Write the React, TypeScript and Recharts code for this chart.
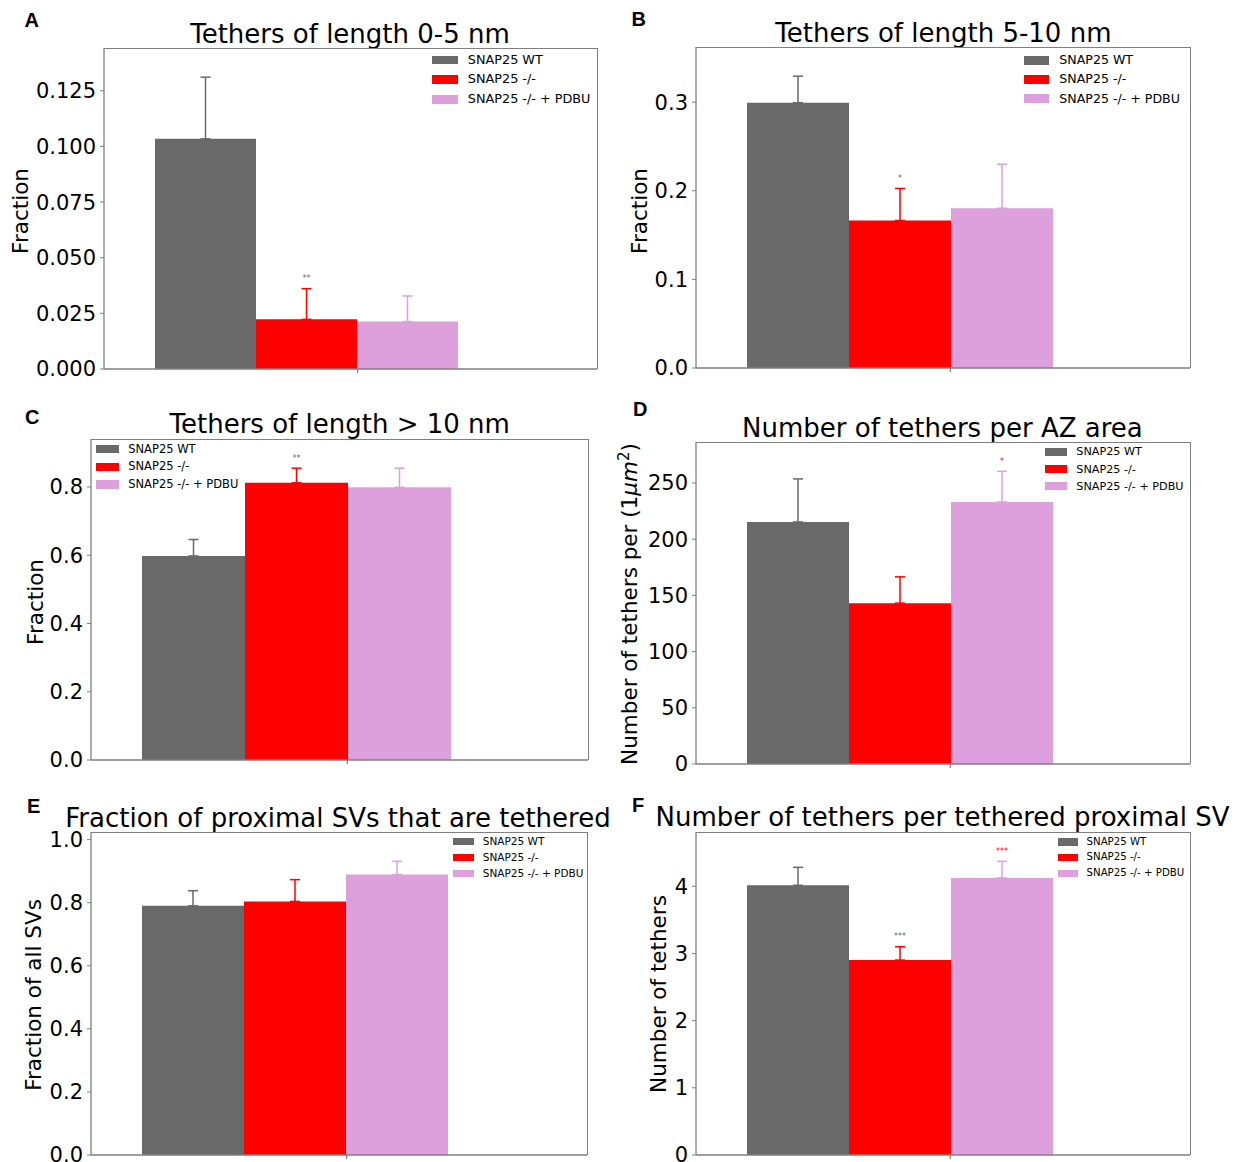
import React from 'react';
import { BarChart, Bar, XAxis, YAxis, ErrorBar } from 'recharts';

// groups, shared by every panel
const groups = ['SNAP25 WT', 'SNAP25 -/-', 'SNAP25 -/- + PDBU'];
const keys = ['wt', 'ko', 'pdbu'];
const fills = ['#696969', '#ff0000', '#dda0dd'];

// A: tethers of length 0-5 nm
const shortMean = [0.1034, 0.0223, 0.0213];
const shortErr = [0.0277, 0.0138, 0.0115];
const shortSig = [null, { stars: '**', vs: 0 }, null];
const shortTicks = [0, 0.025, 0.05, 0.075, 0.1, 0.125];

// B: tethers of length 5-10 nm
const midMean = [0.2994, 0.1664, 0.1803];
const midErr = [0.0299, 0.0362, 0.0496];
const midSig = [null, { stars: '*', vs: 0 }, null];
const midTicks = [0, 0.1, 0.2, 0.3];

// C: tethers of length > 10 nm
const longMean = [0.598, 0.812, 0.799];
const longErr = [0.048, 0.043, 0.056];
const longSig = [null, { stars: '**', vs: 0 }, null];
const longTicks = [0, 0.2, 0.4, 0.6, 0.8];

// D: number of tethers per AZ area
const densMean = [215.3, 143.1, 233.1];
const densErr = [38.3, 23.4, 27.3];
const densSig = [null, null, { stars: '*', vs: 1 }];
const densTicks = [0, 50, 100, 150, 200, 250];

// E: fraction of proximal SVs that are tethered
const fracMean = [0.79, 0.804, 0.889];
const fracErr = [0.048, 0.069, 0.042];
const fracSig = [null, null, null];
const fracTicks = [0, 0.2, 0.4, 0.6, 0.8, 1.0];

// F: number of tethers per tethered proximal SV
const perSvMean = [4.015, 2.902, 4.124];
const perSvErr = [0.267, 0.198, 0.247];
const perSvSig = [null, { stars: '***', vs: 0 }, { stars: '***', vs: 1 }];
const perSvTicks = [0, 1, 2, 3, 4];

const FONT = '"DejaVu Sans", sans-serif';
const FRAME = '#7f7f7f';
const PAD_L = 51;
const PAD_R = 138;
const ML = 90;
const MT = 10;
const MR = 10;
const XH = 24;

function makeRows(mean: number[], err: number[]) {
  const row: any = { name: '' };
  keys.forEach((k, i) => {
    row[k] = mean[i];
    row[k + 'Err'] = [0, err[i]];
  });
  return [row];
}

function BoundaryTick(props: any) {
  const { x, y, width, payload } = props;
  const band = typeof width === 'number' ? width - PAD_L - PAD_R : (payload?.offset ?? 0) * 2;
  const tx = x + band / 6;
  return <line x1={tx} x2={tx} y1={y} y2={y + 4} stroke={FRAME} strokeWidth={1.2} />;
}

function Legend({ x, y, f }: { x: number; y: number; f: number }) {
  const rowH = f * 1.53;
  return (
    <div style={{ position: 'absolute', left: x, top: y - rowH / 2, fontFamily: FONT, fontSize: f, lineHeight: 1, whiteSpace: 'nowrap' }}>
      {groups.map((g, i) => (
        <div key={g} style={{ display: 'flex', alignItems: 'center', height: rowH }}>
          <span style={{ display: 'inline-block', width: 2 * f, height: 0.7 * f, background: fills[i], marginRight: 0.8 * f }} />
          <span>{g}</span>
        </div>
      ))}
    </div>
  );
}

function Panel(p: any) {
  const { box, mean, err, sig, ticks, decimals } = p;
  const rows = makeRows(mean, err);
  const yMax = Math.max(...mean.map((m: number, i: number) => m + err[i])) * 1.1;

  const starLabel = (i: number) => (lp: any) => {
    const s = sig[i];
    if (!s) return null;
    const top = lp.y - (err[i] * lp.height) / mean[i];
    return (
      <text x={lp.x + lp.width / 2} y={top - 7.5} textAnchor="middle" fontSize={8} fill={fills[s.vs]} fontFamily={FONT}>
        {s.stars}
      </text>
    );
  };

  return (
    <>
      <div style={{ position: 'absolute', left: p.letter[0], top: p.letter[1], transform: 'translate(-50%,-50%)', fontFamily: '"Liberation Sans", Arial, sans-serif', fontWeight: 'bold', fontSize: 20, lineHeight: 1 }}>
        {p.letterText}
      </div>
      <div style={{ position: 'absolute', left: p.title[0], top: p.title[1], transform: 'translate(-50%,-50%)', fontFamily: FONT, fontSize: 26, lineHeight: 1, whiteSpace: 'nowrap' }}>
        {p.titleText}
      </div>
      <div style={{ position: 'absolute', left: p.ylab[0], top: p.ylab[1], transform: 'translate(-50%,-50%) rotate(-90deg)', fontFamily: FONT, fontSize: 21.5, lineHeight: 1, whiteSpace: 'nowrap' }}>
        {p.ylabText}
      </div>
      <div style={{ position: 'absolute', left: box.x - ML, top: box.y - MT }}>
        <BarChart
          width={box.w + ML + MR}
          height={box.h + MT + XH}
          data={rows}
          margin={{ top: MT, right: MR, left: 0, bottom: 0 }}
          barGap={0}
          barCategoryGap={0}
        >
          <XAxis
            dataKey="name"
            padding={{ left: PAD_L, right: PAD_R }}
            height={XH}
            interval={0}
            tickLine={false}
            tickSize={0}
            tickMargin={0}
            axisLine={{ stroke: FRAME, strokeWidth: 1.3 }}
            tick={(tp: any) => <BoundaryTick {...tp} />}
          />
          <YAxis
            type="number"
            domain={[0, yMax]}
            ticks={ticks}
            interval={0}
            allowDataOverflow
            width={ML}
            tickSize={4}
            tickMargin={4}
            tickLine={{ stroke: FRAME }}
            axisLine={{ stroke: FRAME, strokeWidth: 1.3 }}
            tick={{ fontSize: 21, fill: '#000', fontFamily: FONT }}
            tickFormatter={(v: number) => v.toFixed(decimals)}
          />
          {keys.map((k, i) => (
            <Bar key={k} dataKey={k} name={groups[i]} fill={fills[i]} isAnimationActive={false} label={starLabel(i)}>
              <ErrorBar dataKey={k + 'Err'} direction="y" width={5} strokeWidth={1.5} stroke={fills[i]} isAnimationActive={false} />
            </Bar>
          ))}
        </BarChart>
      </div>
      {/* top and right spines of the axes box */}
      <div
        style={{
          position: 'absolute',
          left: box.x,
          top: box.y - 0.5,
          width: box.w + 0.5,
          height: box.h,
          boxSizing: 'border-box',
          borderTop: `1.3px solid ${FRAME}`,
          borderRight: `1.3px solid ${FRAME}`,
          pointerEvents: 'none',
        }}
      />
      <Legend x={p.legend[0]} y={p.legend[1]} f={p.legend[2]} />
    </>
  );
}

export default function App() {
  return (
    <div style={{ position: 'absolute', left: 0, top: 0, width: 1238, height: 1162, overflow: 'hidden', background: '#fff' }}>
      <Panel
        letterText="A" letter={[31.7, 19.7]}
        titleText="Tethers of length 0-5 nm" title={[350, 33.8]}
        ylabText="Fraction" ylab={[21.3, 210.8]}
        box={{ x: 104, y: 48, w: 493, h: 321 }}
        mean={shortMean} err={shortErr} sig={shortSig} ticks={shortTicks} decimals={3}
        legend={[432, 60, 12.8]}
      />
      <Panel
        letterText="B" letter={[638.8, 18.8]}
        titleText="Tethers of length 5-10 nm" title={[943.4, 32.8]}
        ylabText="Fraction" ylab={[640.4, 210.8]}
        box={{ x: 696, y: 47, w: 494, h: 321 }}
        mean={midMean} err={midErr} sig={midSig} ticks={midTicks} decimals={1}
        legend={[1024, 60.3, 12.6]}
      />
      <Panel
        letterText="C" letter={[32.2, 416.7]}
        titleText="Tethers of length > 10 nm" title={[339.7, 423.8]}
        ylabText="Fraction" ylab={[35.6, 601.5]}
        box={{ x: 91, y: 439, w: 497, h: 321 }}
        mean={longMean} err={longErr} sig={longSig} ticks={longTicks} decimals={1}
        legend={[96, 449.3, 11.5]}
      />
      <Panel
        letterText="D" letter={[640.3, 409.2]}
        titleText="Number of tethers per AZ area" title={[942.4, 427.8]}
        ylabText={<>Number of tethers per (1<i>μm</i><sup style={{ fontSize: '0.7em' }}>2</sup>)</>} ylab={[629.3, 604]}
        box={{ x: 696, y: 442, w: 494, h: 322 }}
        mean={densMean} err={densErr} sig={densSig} ticks={densTicks} decimals={0}
        legend={[1045, 452, 11.2]}
      />
      <Panel
        letterText="E" letter={[33.6, 806.3]}
        titleText="Fraction of proximal SVs that are tethered" title={[338, 818]}
        ylabText="Fraction of all SVs" ylab={[34, 995]}
        box={{ x: 91, y: 832, w: 496, h: 323 }}
        mean={fracMean} err={fracErr} sig={fracSig} ticks={fracTicks} decimals={1}
        legend={[453.4, 841.3, 10.5]}
      />
      <Panel
        letterText="F" letter={[638.2, 804.5]}
        titleText="Number of tethers per tethered proximal SV" title={[942.5, 817.2]}
        ylabText="Number of tethers" ylab={[659.2, 993.5]}
        box={{ x: 696, y: 832, w: 494, h: 323 }}
        mean={perSvMean} err={perSvErr} sig={perSvSig} ticks={perSvTicks} decimals={0}
        legend={[1058, 842, 10.2]}
      />
    </div>
  );
}
